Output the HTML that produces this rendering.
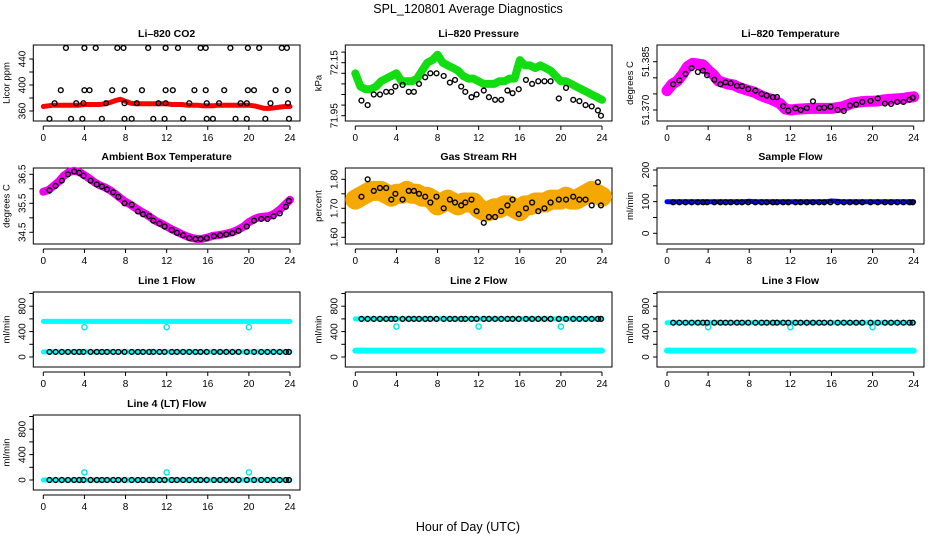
<!DOCTYPE html>
<html><head><meta charset="utf-8"><style>
html,body{margin:0;padding:0;background:#fff}
svg{display:block;font-family:"Liberation Sans",Arial,sans-serif}
</style></head><body>
<svg id="chart" width="936" height="540" viewBox="0 0 936 540">
<text x="468" y="13" text-anchor="middle" font-size="12.5">SPL_120801  Average Diagnostics</text>
<text x="468" y="531" text-anchor="middle" font-size="12.5">Hour of Day (UTC)</text>
</svg>
<script>
// ---- data ----
const xTicks = [0,4,8,12,16,20,24];
const bandHours = [0,0.5,1,1.5,2,2.5,3,3.5,4,4.5,5,5.5,6,6.5,7,7.5,8,8.5,9,9.5,10,10.5,11,11.5,12,12.5,13,13.5,14,14.5,15,15.5,16,16.5,17,17.5,18,18.5,19,19.5,20,20.5,21,21.5,22,22.5,23,23.5,24];
const blackHours = [0.6,1.2,1.8,2.4,3.0,3.5,3.9,4.6,5.2,5.7,6.2,6.8,7.3,7.9,8.6,9.2,9.7,10.3,10.7,11.3,11.8,12.5,13.0,13.6,14.2,14.8,15.3,15.9,16.6,17.2,17.8,18.4,19.0,19.8,20.5,21.2,21.8,22.4,23.0,23.6,23.9];

const co2Band = [367,368,369,369,369,369,369,369,370,370,370,370,371,373,376,378,375,372,371,371,371,371,371,371,371,370,370,370,369,369,369,368,368,368,369,369,369,369,369,369,369,368,366,364,364,365,366,367,367];
const co2PtHours = [2.2,4.0,5.1,7.2,7.8,10.2,11.9,13.1,15.3,15.8,18.2,19.9,21.0,23.2,23.7,
 1.7,4.0,4.5,6.7,7.9,9.6,11.9,12.6,14.7,15.8,17.6,19.9,20.5,22.6,23.8,
 1.1,3.2,3.9,6.1,7.9,9.1,11.2,11.9,14.2,15.9,17.1,19.2,19.8,22.1,23.8,
 0.6,2.7,3.8,5.7,7.9,8.6,10.7,11.8,13.6,15.9,16.5,18.7,19.8,21.6,23.9];
const co2PtValues = [457,457,457,457,457,457,457,457,457,457,457,457,457,457,457,
 392,392,392,392,392,392,392,392,392,392,392,392,392,392,392,
 372,372,372,372,372,372,372,372,372,372,372,372,372,372,372,
 348,348,348,348,348,348,348,348,348,348,348,348,348,348,348];

const presBand = [72.11,72.06,72.05,72.05,72.06,72.08,72.09,72.10,72.11,72.08,72.08,72.08,72.09,72.12,72.15,72.16,72.18,72.15,72.14,72.13,72.12,72.10,72.09,72.09,72.08,72.07,72.07,72.07,72.08,72.08,72.09,72.09,72.16,72.14,72.14,72.13,72.14,72.13,72.12,72.10,72.08,72.08,72.07,72.06,72.05,72.04,72.03,72.02,72.01];
const presBlack = [72.007,71.99,72.03,72.03,72.04,72.04,72.06,72.066,72.04,72.04,72.07,72.095,72.11,72.11,72.10,72.075,72.085,72.06,72.04,72.02,72.03,72.045,72.02,72.01,72.01,72.045,72.035,72.05,72.085,72.07,72.08,72.08,72.08,72.015,72.055,72.01,72.005,71.99,71.985,71.97,71.95];

const ltBand = [51.3760,51.3780,51.3790,51.3810,51.3835,51.3845,51.3843,51.3840,51.3824,51.3810,51.3790,51.3785,51.3780,51.3778,51.3770,51.3765,51.3760,51.3755,51.3747,51.3740,51.3735,51.3728,51.3720,51.3703,51.3700,51.3702,51.3703,51.3704,51.3705,51.3705,51.3705,51.3705,51.3705,51.3707,51.3709,51.3715,51.3721,51.3724,51.3726,51.3727,51.3727,51.3728,51.3731,51.3733,51.3734,51.3735,51.3736,51.3739,51.3741];
const ltBlack = [51.3780,51.3792,51.3812,51.3830,51.3818,51.3822,51.3808,51.3794,51.3780,51.3786,51.3783,51.3775,51.3774,51.3765,51.3760,51.3750,51.3745,51.3740,51.3740,51.3712,51.3698,51.3705,51.3700,51.3706,51.3727,51.3706,51.3707,51.3710,51.3700,51.3697,51.3714,51.3717,51.3725,51.3728,51.3736,51.3720,51.3719,51.3725,51.3725,51.3732,51.3738];

const ambBand = [35.90,35.95,36.10,36.25,36.45,36.58,36.62,36.58,36.47,36.35,36.22,36.12,36.05,35.95,35.82,35.68,35.55,35.45,35.33,35.22,35.12,35.00,34.88,34.80,34.70,34.60,34.52,34.43,34.36,34.30,34.27,34.28,34.32,34.38,34.40,34.43,34.47,34.52,34.60,34.70,34.85,34.95,35.02,35.04,35.06,35.15,35.28,35.45,35.62];
const ambBlack = [35.95,36.10,36.28,36.50,36.60,36.55,36.45,36.28,36.15,36.08,35.98,35.88,35.72,35.50,35.45,35.22,35.12,35.06,34.90,34.80,34.70,34.58,34.48,34.40,34.30,34.27,34.27,34.30,34.37,34.40,34.43,34.47,34.55,34.70,34.90,34.96,34.96,35.05,35.15,35.38,35.58];

const rhBand = [1.73,1.74,1.75,1.76,1.76,1.76,1.75,1.74,1.75,1.75,1.76,1.75,1.75,1.74,1.74,1.73,1.71,1.72,1.73,1.72,1.71,1.72,1.72,1.72,1.70,1.69,1.69,1.70,1.70,1.71,1.71,1.70,1.69,1.71,1.71,1.72,1.72,1.72,1.73,1.73,1.73,1.74,1.73,1.73,1.74,1.75,1.76,1.75,1.74];
const rhBlack = [1.74,1.80,1.76,1.77,1.77,1.73,1.75,1.73,1.76,1.76,1.75,1.74,1.72,1.74,1.70,1.73,1.72,1.71,1.72,1.73,1.69,1.65,1.67,1.67,1.69,1.71,1.73,1.68,1.70,1.72,1.69,1.70,1.72,1.73,1.73,1.74,1.73,1.73,1.71,1.79,1.71];

const sampleBand = [100,100,100,100,100,100,100,100,100,100,100,100,100,100,100,100,101,100,100,100,100,100,100,100,100,100,100,100,100,100,100,100,102,101,100,100,100,100,100,100,100,100,100,100,100,100,100,100,100];
const sampleBlack = 98;

const flowDotHours = [4,12,20];
const line1Cyan = 560, line1Dots = 470, line1Low = 80, line1Black = 80;
const line2Cyan = 100, line2Dots = 480, line2High = 600, line2Black = 600;
const line3Cyan = 100, line3Dots = 470, line3High = 540, line3Black = 540;
const line4Cyan = 0, line4Dots = 120, line4Black = 0;

// ---- layout ----
const NS = "http://www.w3.org/2000/svg";
const svg = document.getElementById('chart');
const colL = [33.3, 345.3, 657], colR = [300, 612, 924];
const rowT = [45, 168, 292, 415], rowB = [121, 244, 367, 490];
function mk(tag, attrs, parent){ const e=document.createElementNS(NS,tag); for(const k in attrs) e.setAttribute(k,attrs[k]); (parent||svg).appendChild(e); return e; }

function panel(name, col, row, title, ylab, cal, ticks, labels){
  const g = mk('g',{});
  
  
  const L=colL[col], R=colR[col], T=rowT[row], B=rowB[row];
  const x0=L+10, x24=L+256.7;
  const xs = h => x0 + h*(x24-x0)/24;
  const ys = v => cal[1] + (v-cal[0])*(cal[3]-cal[1])/(cal[2]-cal[0]);
  const box = mk('rect',{x:L,y:T,width:R-L,height:B-T,fill:'none',stroke:'#000','stroke-width':1},g);
  
  
  const t = mk('text',{x:(L+R)/2,y:T-8,'text-anchor':'middle','font-size':10.5,'font-weight':'bold'},g);
  t.textContent = title;
  
  
  // x axis
  const xa = mk('g',{},g);
  
  
  mk('line',{x1:xs(0),x2:xs(24),y1:B+5,y2:B+5,stroke:'#000'},xa);
  xTicks.forEach(h=>{
    mk('line',{x1:xs(h),x2:xs(h),y1:B+5,y2:B+9,stroke:'#000'},xa);
    const tx = mk('text',{x:xs(h),y:B+20,'text-anchor':'middle','font-size':10},xa);
    tx.textContent = h;
  });
  // y axis
  const ya = mk('g',{},g);
  
  
  mk('line',{x1:L,x2:L,y1:ys(ticks[0]),y2:ys(ticks[ticks.length-1]),stroke:'#000'},ya);
  ticks.forEach((v,i)=>{
    const y=ys(v);
    mk('line',{x1:L-4,x2:L,y1:y,y2:y,stroke:'#000'},ya);
    if(labels[i]){
      const tl = mk('text',{x:L-8,y:y,'text-anchor':'middle','font-size':10,transform:`rotate(-90 ${L-8} ${y})`},ya);
      tl.textContent = labels[i];
    }
  });
  const yl = mk('text',{x:L-24,y:(T+B)/2,'text-anchor':'middle','font-size':9.5,transform:`rotate(-90 ${L-24} ${(T+B)/2})`},g);
  yl.textContent = ylab;
  
  
  return {g, xs, ys};
}
function band(p, name, hours, vals, color, w){
  const pts = hours.map((h,i)=>p.xs(h).toFixed(1)+','+p.ys(vals[i]).toFixed(1)).join(' ');
  const e = mk('polyline',{points:pts,fill:'none',stroke:color,'stroke-width':w,'stroke-linejoin':'round','stroke-linecap':'round'},p.g);
  
  
}
function points(p, name, hours, vals, color, r){
  const g = mk('g',{},p.g);
  
  
  hours.forEach((h,i)=>{
    const v = Array.isArray(vals) ? vals[i] : vals;
    mk('circle',{cx:p.xs(h),cy:p.ys(v),r:r||2.4,fill:'none',stroke:color,'stroke-width':1.4},g);
  });
}

// CO2
let p = panel('co2',0,0,'Li–820 CO2','Licor ppm',[360,111,440,59],[360,380,400,420,440],['360','','400','','440']);
band(p,'co2-series',bandHours,co2Band,'#ff0000',5);
points(p,'co2-hourly-points',co2PtHours,co2PtValues,'#000');
// Pressure
p = panel('pressure',1,0,'Li–820 Pressure','kPa',[71.95,115.7,72.15,62.7],[71.95,71.99,72.03,72.07,72.11,72.15,72.19],['71.95','','','','','72.15','']);
band(p,'pressure-series',bandHours,presBand,'#11dd11',8);
points(p,'pressure-hourly-points',blackHours,presBlack,'#000');
// Li temp
p = panel('li-temp',2,0,'Li–820 Temperature','degrees C',[51.370,110,51.385,61.7],[51.370,51.375,51.380,51.385],['51.370','','','51.385']);
band(p,'li-temp-series',bandHours,ltBand,'#ff00ff',11);
points(p,'li-temp-hourly-points',blackHours,ltBlack,'#000');
// Ambient
p = panel('ambient-temp',0,1,'Ambient Box Temperature','degrees C',[34.5,232.3,36.5,174.3],[34.5,35,35.5,36,36.5],['34.5','','35.5','','36.5']);
band(p,'ambient-temp-series',bandHours,ambBand,'#ee00ee',8);
points(p,'ambient-temp-hourly-points',blackHours,ambBlack,'#000');
// RH
p = panel('rh',1,1,'Gas Stream RH','percent',[1.60,237.3,1.80,179.3],[1.60,1.65,1.70,1.75,1.80],['1.60','','1.70','','1.80']);
band(p,'rh-series',bandHours,rhBand,'#f5a800',20);
points(p,'rh-hourly-points',blackHours,rhBlack,'#000');
// Sample flow
p = panel('sample-flow',2,1,'Sample Flow','ml/min',[0,233.3,200,170],[0,50,100,150,200],['0','','100','','200']);
band(p,'sample-flow-series',bandHours,sampleBand,'#0000ff',5);
points(p,'sample-flow-hourly-points',blackHours,sampleBlack,'#000');
// Line flows
const fT=[0,200,400,600,800,1000], fL=['0','','400','','800',''];
p = panel('line1-flow',0,2,'Line 1 Flow','ml/min',[0,357,800,306.2],fT,fL);
band(p,'line1-high-series',bandHours,bandHours.map(()=>line1Cyan),'#00ffff',5);
band(p,'line1-low-series',bandHours,bandHours.map(()=>line1Low),'#00ffff',5);
points(p,'line1-dots',flowDotHours,line1Dots,'#00e5e5',2.6);
points(p,'line1-hourly-points',blackHours,line1Black,'#000');
p = panel('line2-flow',1,2,'Line 2 Flow','ml/min',[0,357,800,306.2],fT,fL);
band(p,'line2-high-series',bandHours,bandHours.map(()=>line2High),'#00ffff',5);
band(p,'line2-low-series',bandHours,bandHours.map(()=>line2Cyan),'#00ffff',6);
points(p,'line2-dots',flowDotHours,line2Dots,'#00e5e5',2.6);
points(p,'line2-hourly-points',blackHours,line2Black,'#000');
p = panel('line3-flow',2,2,'Line 3 Flow','ml/min',[0,357,800,306.2],fT,fL);
band(p,'line3-high-series',bandHours,bandHours.map(()=>line3High),'#00ffff',5);
band(p,'line3-low-series',bandHours,bandHours.map(()=>line3Cyan),'#00ffff',6);
points(p,'line3-dots',flowDotHours,line3Dots,'#00e5e5',2.6);
points(p,'line3-hourly-points',blackHours,line3Black,'#000');
p = panel('line4-flow',0,3,'Line 4 (LT) Flow','ml/min',[0,480,800,429.2],fT,fL);
band(p,'line4-series',bandHours,bandHours.map(()=>line4Cyan),'#00ffff',5);
points(p,'line4-dots',flowDotHours,line4Dots,'#00e5e5',2.6);
points(p,'line4-hourly-points',blackHours,line4Black,'#000');
</script>
</body></html>
